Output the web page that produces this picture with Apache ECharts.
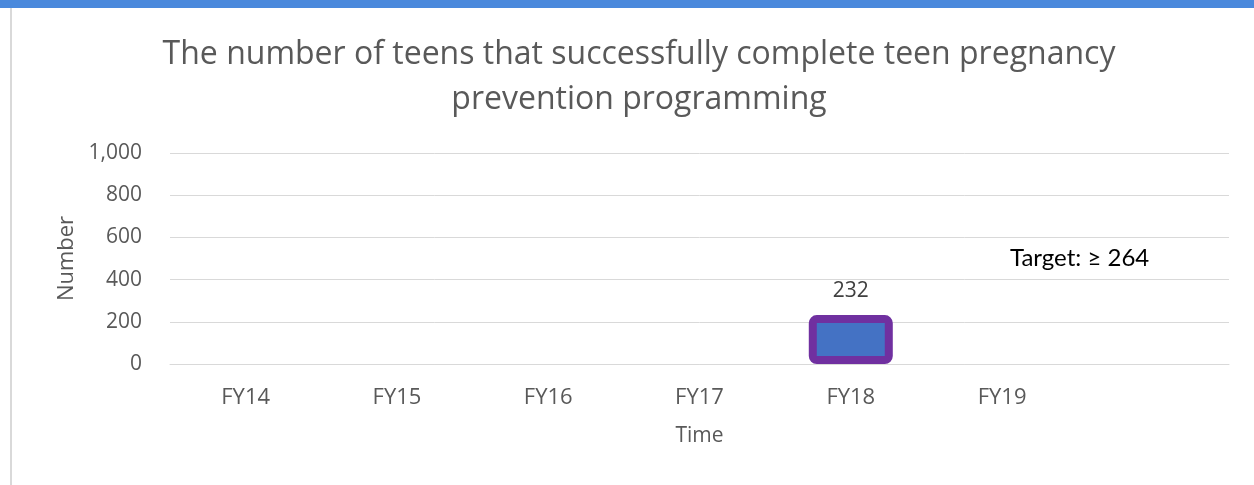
<!DOCTYPE html>
<html>
<head>
<meta charset="utf-8">
<script src="https://cdn.jsdelivr.net/npm/echarts@6/dist/echarts.min.js"></script>
<style>
html,body{margin:0;padding:0;background:#fff;}
#chart{width:1254px;height:485px;}
</style>
</head>
<body>
<div id="chart"></div>
<script>
const titleText = 'The number of teens that successfully complete teen pregnancy\nprevention programming';
const categories = ['FY14', 'FY15', 'FY16', 'FY17', 'FY18', 'FY19', ''];
const values = [null, null, null, null, 232, null, null];
const yTicks = [0, 200, 400, 600, 800, 1000];
const targetText = 'Target: \u2265 264';

const chart = echarts.init(document.getElementById('chart'), null, {renderer: 'canvas'});
const font = '"Open Sans", sans-serif';
chart.setOption({
  animation: false,
  backgroundColor: '#ffffff',
  title: {
    text: titleText,
    left: 634,
    textAlign: 'center',
    top: 27,
    textStyle: {fontFamily: font, fontSize: 32, fontWeight: 'normal', color: '#595959', lineHeight: 45}
  },
  grid: {left: 170, right: 25, top: 153, bottom: 121, containLabel: false},
  xAxis: {
    type: 'category',
    data: categories,
    name: 'Time',
    nameLocation: 'middle',
    nameGap: 62,
    nameTextStyle: {fontFamily: font, fontSize: 21, color: '#595959'},
    axisLine: {show: true, lineStyle: {color: '#d9d9d9', width: 1}},
    axisTick: {show: false},
    axisLabel: {fontFamily: font, fontSize: 22, color: '#595959', margin: 23}
  },
  yAxis: {
    type: 'value',
    min: yTicks[0],
    max: yTicks[yTicks.length - 1],
    interval: yTicks[1] - yTicks[0],
    name: 'Number',
    nameLocation: 'middle',
    nameRotate: 90,
    nameGap: 91,
    nameTextStyle: {fontFamily: font, fontSize: 22, color: '#595959'},
    axisLine: {show: false},
    axisTick: {show: false},
    splitLine: {lineStyle: {color: '#d9d9d9', width: 1}},
    axisLabel: {
      fontFamily: font, fontSize: 21, color: '#595959', margin: 28,
      formatter: v => v.toLocaleString('en-US')
    }
  },
  series: [{
    type: 'bar',
    data: values,
    barWidth: 84,
    itemStyle: {color: '#4472C4', borderColor: '#7030A0', borderWidth: 8, borderRadius: 4},
    label: {show: true, position: 'top', distance: 14, fontFamily: font, fontSize: 21, color: '#404040'}
  }],
  graphic: [
    {type: 'rect', left: 0, top: 0, shape: {width: 1254, height: 8}, style: {fill: '#4A89DC'}, silent: true},
    {type: 'rect', left: 10, top: 8, shape: {width: 2, height: 477}, style: {fill: '#d9d9d9'}, silent: true},
    {type: 'text', left: 1010, top: 246, style: {text: targetText, font: '24px Lato, "Open Sans", sans-serif', fill: '#000000'}}
  ]
});
</script>
</body>
</html>
